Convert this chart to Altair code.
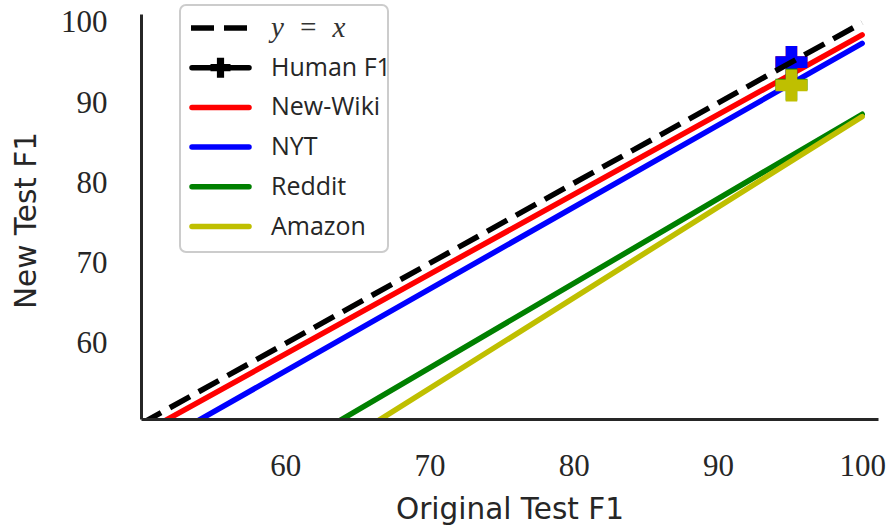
import altair as alt
import pandas as pd

# Linear fits of new-test F1 against original-test F1 (start and end of each fit)
series = ["y = x", "New-Wiki", "NYT", "Reddit", "Amazon"]
x_start = [50.0, 51.27, 53.57, 63.40, 66.10]
y_start = [50.0, 50.0, 50.0, 50.0, 50.0]
x_end = [100.0, 100.0, 100.0, 100.0, 100.0]
y_end = [100.0, 98.5, 97.45, 88.6, 88.3]

# Human F1: original test set vs each new test set
human_sets = ["New-Wiki", "NYT", "Reddit", "Amazon"]
human_orig = [95.1, 95.1, 95.1, 95.1]
human_new = [95.1, 95.1, 92.3, 92.2]

# Legend entries and styling
legend_labels = ["y = x", "Human F1", "New-Wiki", "NYT", "Reddit", "Amazon"]
palette = ["#000000", "#000000", "#ff0000", "#0000ff", "#008000", "#bfbf00"]

x_ticks = [60, 70, 80, 90, 100]
y_ticks = [60, 70, 80, 90, 100]

INK = "#262626"
SANS = "DejaVu Sans"
LEGEND_SANS = "Open Sans"
SERIF = "Liberation Serif"
# filled plus, arms about a third of the width
PLUS = ("M-0.36,-1L0.36,-1L0.36,-0.36L1,-0.36L1,0.36L0.36,0.36L0.36,1"
        "L-0.36,1L-0.36,0.36L-1,0.36L-1,-0.36L-0.36,-0.36Z")

W, H = 737, 405

lines_df = pd.DataFrame({"label": series, "x0": x_start, "y0": y_start,
                         "x1": x_end, "y1": y_end})
human_df = pd.DataFrame({"label": human_sets, "orig": human_orig, "new": human_new})
legend_df = pd.DataFrame({"label": legend_labels, "row": list(range(len(legend_labels)))})

xs = alt.Scale(domain=[50, 101.1], nice=False, zero=False)
ys = alt.Scale(domain=[50.6, 101.1], nice=False, zero=False)
rows = alt.Scale(domain=[0, 5], range=[14, 212.5], nice=False, zero=False)
color = alt.Color("label:N", scale=alt.Scale(domain=legend_labels, range=palette), legend=None)

x_axis = alt.Axis(values=x_ticks, ticks=False, grid=False, domainColor=INK, domainWidth=3,
                  labelFont=SERIF, labelFontSize=31, labelColor=INK, labelPadding=32,
                  titleFont=SANS, titleFontSize=29.5, titleColor=INK, titleFontWeight="normal",
                  titleBaseline="alphabetic", titleY=99, zindex=1)
y_axis = alt.Axis(values=y_ticks, ticks=False, grid=False, domainColor=INK, domainWidth=3,
                  labelFont=SERIF, labelFontSize=31, labelColor=INK, labelPadding=34,
                  titleFont=SANS, titleFontSize=29.5, titleColor=INK, titleFontWeight="normal",
                  titleBaseline="alphabetic", titleX=-106, titleY=206, zindex=1)

X_TITLE = "Original Test F1"
Y_TITLE = "New Test F1"

base = alt.Chart(lines_df)

fits = base.transform_filter(alt.datum.label != "y = x").mark_rule(
    strokeWidth=5.5, strokeCap="round", clip=True
).encode(
    x=alt.X("x0:Q", scale=xs, axis=x_axis, title=X_TITLE),
    y=alt.Y("y0:Q", scale=ys, axis=y_axis, title=Y_TITLE),
    x2="x1:Q", y2="y1:Q", color=color,
)

identity = base.transform_filter(alt.datum.label == "y = x").mark_rule(
    strokeWidth=5.5, strokeCap="butt", strokeDash=[23, 10], clip=True
).encode(
    x=alt.X("x0:Q", scale=xs, axis=x_axis, title=X_TITLE),
    y=alt.Y("y0:Q", scale=ys, axis=None),
    x2="x1:Q", y2="y1:Q", color=color,
)

human = alt.Chart(human_df).mark_point(
    shape=PLUS, filled=True, size=1024, opacity=1
).encode(
    x=alt.X("orig:Q", scale=xs, axis=x_axis, title=X_TITLE),
    y=alt.Y("new:Q", scale=ys, axis=None),
    color=color,
)

# legend drawn as its own small layer
frame = alt.Chart(alt.Data(values=[{}])).mark_rect(
    fill="white", stroke="#cccccc", strokeWidth=2, cornerRadius=6
).encode(x=alt.value(39), x2=alt.value(247), y=alt.value(-9), y2=alt.value(238))

leg = alt.Chart(legend_df)
leg_y = alt.Y("row:Q", scale=rows, axis=None)

leg_solid = leg.transform_filter(alt.datum.row > 0).mark_rule(
    strokeWidth=5.5, strokeCap="round"
).encode(x=alt.value(51), x2=alt.value(108), y=leg_y, color=color)

leg_dash = leg.transform_filter(alt.datum.row == 0).mark_rule(
    strokeWidth=5.5, strokeCap="butt", strokeDash=[23, 10]
).encode(x=alt.value(50), x2=alt.value(107), y=leg_y, color=color)

leg_plus = leg.transform_filter(alt.datum.row == 1).mark_point(
    shape=PLUS, filled=True, size=400, opacity=1
).encode(x=alt.value(79.5), y=leg_y, color=color)

leg_text = leg.transform_filter(alt.datum.row > 0).mark_text(
    align="left", baseline="middle", font=LEGEND_SANS, fontSize=25, color=INK
).encode(x=alt.value(130), y=leg_y, text="label:N")

# math-style entry: italic serif with wider spacing around "="
leg_math = leg.transform_filter(alt.datum.row == 0).transform_calculate(
    shown="replace(datum.label, / /g, '\u2002')"
).mark_text(
    align="left", baseline="middle", font=SERIF, fontStyle="italic", fontSize=29, color="#333333"
).encode(x=alt.value(130), y=leg_y, text="shown:N")

chart = alt.layer(
    fits, human, identity, frame, leg_dash, leg_solid, leg_plus, leg_text, leg_math
).resolve_scale(y="independent").properties(
    width=W, height=H,
    background="white",
    autosize=alt.AutoSizeParams(type="none"),
    padding={"left": 141, "top": 14, "right": 10, "bottom": 106},
).configure_view(stroke="transparent", strokeWidth=0)

chart.save("out.html", embed_options={"renderer": "svg", "actions": False})
